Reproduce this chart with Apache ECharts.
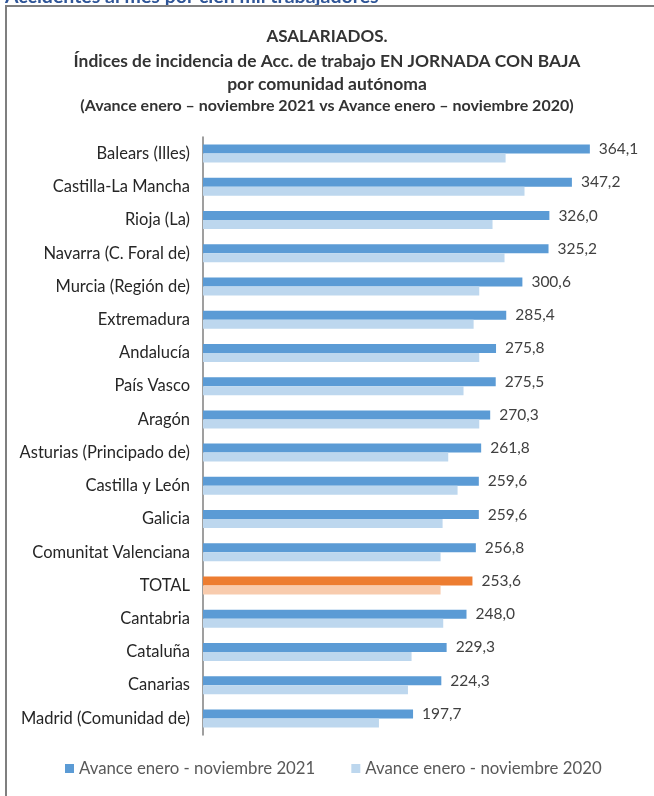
<!DOCTYPE html>
<html>
<head>
<meta charset="utf-8">
<script src="https://cdn.jsdelivr.net/npm/echarts@6/dist/echarts.min.js"></script>
<style>
    html, body { margin: 0; padding: 0; background: #fff; }
    #grafico { width: 654px; height: 796px; }
</style>
</head>
<body>
<div id="grafico"></div>
<script>
// comunidades, de mayor a menor índice 2021
let comunidades = ['Balears (Illes)', 'Castilla-La Mancha', 'Rioja (La)', 'Navarra (C. Foral de)',
    'Murcia (Región de)', 'Extremadura', 'Andalucía', 'País Vasco', 'Aragón',
    'Asturias (Principado de)', 'Castilla y León', 'Galicia', 'Comunitat Valenciana', 'TOTAL',
    'Cantabria', 'Cataluña', 'Canarias', 'Madrid (Comunidad de)'];
let indice2021 = [364.1, 347.2, 326.0, 325.2, 300.6, 285.4, 275.8, 275.5, 270.3,
    261.8, 259.6, 259.6, 256.8, 253.6, 248.0, 229.3, 224.3, 197.7];
let indice2020 = [284.8, 302.6, 272.5, 283.8, 260.0, 254.7, 260.0, 245.2, 260.0,
    230.8, 239.6, 225.5, 223.6, 223.6, 226.1, 196.3, 192.9, 165.6];
let serie2021 = 'Avance enero - noviembre 2021';
let serie2020 = 'Avance enero - noviembre 2020';

let fuente = 'Lato';
let colores = {
    a2021: '#5b9bd5',
    a2020: '#bdd7ee',
    total2021: '#ed7d31',
    total2020: '#f8cbad'
};

function datosSerie(valores, color, colorTotal) {
    return valores.map(function (v, i) {
        if (comunidades[i] === 'TOTAL') {
            return { value: v, itemStyle: { color: colorTotal } };
        }
        return { value: v, itemStyle: { color: color } };
    });
}

let myChart = echarts.init(document.getElementById('grafico'));

let option = {
    backgroundColor: '#ffffff',
    animation: false,
    textStyle: { fontFamily: fuente },
    title: [
        { text: 'ASALARIADOS.', left: 'center', top: 23,
          textStyle: { fontSize: 17, fontWeight: 'bold', color: '#333333', fontFamily: fuente } },
        { text: 'Índices de incidencia de Acc. de trabajo EN JORNADA CON BAJA', left: 'center', top: 48,
          textStyle: { fontSize: 17.4, fontWeight: 'bold', color: '#333333', fontFamily: fuente } },
        { text: 'por comunidad autónoma', left: 'center', top: 70,
          textStyle: { fontSize: 17.5, fontWeight: 'bold', color: '#333333', fontFamily: fuente } },
        { text: '(Avance enero – noviembre 2021 vs Avance enero – noviembre 2020)', left: 'center', top: 93,
          textStyle: { fontSize: 16, fontWeight: 'bold', color: '#333333', fontFamily: fuente } }
    ],
    graphic: [
        { type: 'text', left: 5, top: -13,
          style: { text: 'Accidentes al mes por cien mil trabajadores', fill: '#2f5597',
                   font: 'bold 19.5px ' + fuente } },
        { type: 'line', shape: { x1: 5, y1: 6, x2: 654, y2: 6 },
          style: { stroke: '#7f7f7f', lineWidth: 2 } },
        { type: 'line', shape: { x1: 6, y1: 6, x2: 6, y2: 796 },
          style: { stroke: '#7f7f7f', lineWidth: 2 } }
    ],
    legend: {
        bottom: 14,
        left: 60,
        itemWidth: 9,
        itemHeight: 9,
        itemGap: 36,
        icon: 'rect',
        textStyle: { fontSize: 16.8, color: '#595959', fontFamily: fuente },
        data: [
            { name: serie2021, itemStyle: { color: colores.a2021 } },
            { name: serie2020, itemStyle: { color: colores.a2020 } }
        ]
    },
    grid: {
        left: 203,
        right: 26,
        top: 137,
        bottom: 61,
        containLabel: false
    },
    xAxis: {
        type: 'value',
        min: 0,
        max: 400,
        show: false
    },
    yAxis: {
        type: 'category',
        inverse: true,
        data: comunidades,
        axisLine: { show: true, lineStyle: { color: '#7f7f7f', width: 1.5 } },
        axisTick: { show: false },
        axisLabel: { fontSize: 16.5, color: '#262626', margin: 13, fontFamily: fuente }
    },
    series: [
        {
            name: serie2021,
            type: 'bar',
            data: datosSerie(indice2021, colores.a2021, colores.total2021),
            barWidth: 9,
            barGap: '0%',
            label: {
                show: true,
                position: 'right',
                distance: 9,
                fontSize: 15.5,
                color: '#404040',
                fontFamily: fuente,
                formatter: function (p) {
                    return p.value.toFixed(1).replace('.', ',');
                }
            }
        },
        {
            name: serie2020,
            type: 'bar',
            data: datosSerie(indice2020, colores.a2020, colores.total2020),
            barWidth: 9,
            barGap: '0%'
        }
    ]
};

myChart.setOption(option);
</script>
</body>
</html>
